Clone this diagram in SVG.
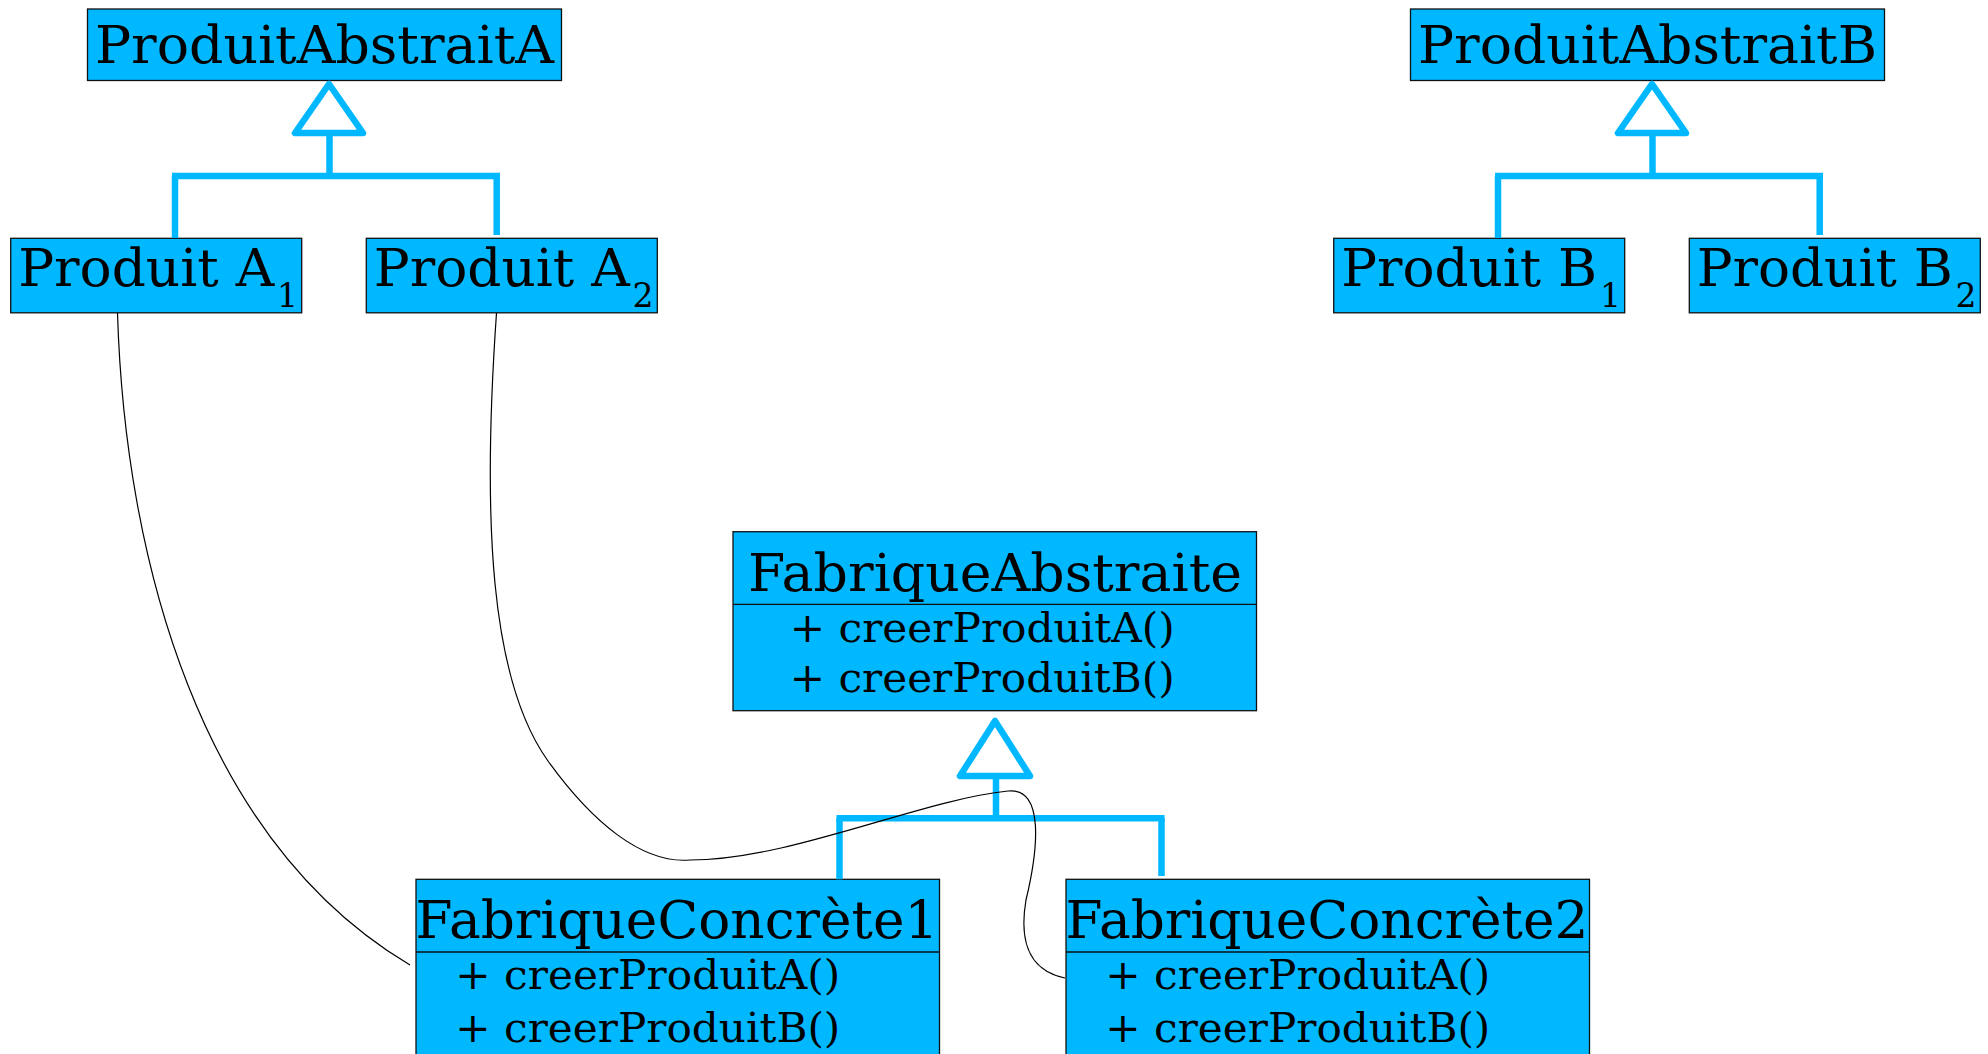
<svg xmlns="http://www.w3.org/2000/svg" width="1988" height="1054" viewBox="0 0 1988 1054">
<style>
.box{fill:#00b8ff;stroke:#111;stroke-width:1.3}
.div{stroke:#111;stroke-width:1.3}
.t{font-family:"DejaVu Serif","Liberation Serif",serif;fill:#000}
.title{font-size:53px}
.prod{font-size:53px}
.sub{font-size:33px}
.meth{font-size:41px}
.gen{stroke:#00b8ff;stroke-width:6.5;fill:none}
.tri{stroke:#00b8ff;stroke-width:6.5;fill:#fff;stroke-linejoin:round}
.assoc{stroke:#000;stroke-width:1.2;fill:none}
</style>
<rect width="1988" height="1054" fill="#fff"/>
<g id="produitAbstraitA">
<rect class="box" x="87.5" y="9" width="474" height="71.5"/>
<text class="t title" x="95" y="63.3" textLength="459" lengthAdjust="spacingAndGlyphs">ProduitAbstraitA</text>
</g>
<g id="produitA1">
<rect class="box" x="10.7" y="238.3" width="291" height="74.5"/>
<text class="t prod" x="18.2" y="286" textLength="256" lengthAdjust="spacingAndGlyphs">Produit A</text>
<text class="t sub" x="277" y="307.3">1</text>
</g>
<g id="produitA2">
<rect class="box" x="366.3" y="238.3" width="291" height="74.5"/>
<text class="t prod" x="373.8" y="286" textLength="256" lengthAdjust="spacingAndGlyphs">Produit A</text>
<text class="t sub" x="632.6" y="307.3">2</text>
</g>
<g id="produitAbstraitB">
<rect class="box" x="1410.5" y="9" width="474" height="71.5"/>
<text class="t title" x="1418" y="63.3" textLength="459" lengthAdjust="spacingAndGlyphs">ProduitAbstraitB</text>
</g>
<g id="produitB1">
<rect class="box" x="1333.7" y="238.3" width="291" height="74.5"/>
<text class="t prod" x="1341.2" y="286" textLength="256" lengthAdjust="spacingAndGlyphs">Produit B</text>
<text class="t sub" x="1600" y="307.3">1</text>
</g>
<g id="produitB2">
<rect class="box" x="1689.3" y="238.3" width="291" height="74.5"/>
<text class="t prod" x="1696.8" y="286" textLength="256" lengthAdjust="spacingAndGlyphs">Produit B</text>
<text class="t sub" x="1955.6" y="307.3">2</text>
</g>
<g id="fabriqueAbstraite">
<rect class="box" x="733" y="531.7" width="523.5" height="179"/>
<line class="div" x1="733" y1="604.3" x2="1256.5" y2="604.3"/>
<text class="t title" x="748" y="590.7" textLength="494" lengthAdjust="spacingAndGlyphs">FabriqueAbstraite</text>
<text class="t meth" x="789.7" y="641.7" textLength="385" lengthAdjust="spacingAndGlyphs">+ creerProduitA()</text>
<text class="t meth" x="789.7" y="691.7" textLength="385" lengthAdjust="spacingAndGlyphs">+ creerProduitB()</text>
</g>
<g id="fabriqueConcrete1">
<rect class="box" x="416" y="879.3" width="523.5" height="179"/>
<line class="div" x1="416" y1="952" x2="939.5" y2="952"/>
<text class="t title" x="415.5" y="938.3" textLength="523" lengthAdjust="spacingAndGlyphs">FabriqueConcrète1</text>
<text class="t meth" x="455.3" y="989.3" textLength="385" lengthAdjust="spacingAndGlyphs">+ creerProduitA()</text>
<text class="t meth" x="455.3" y="1041.7" textLength="385" lengthAdjust="spacingAndGlyphs">+ creerProduitB()</text>
</g>
<g id="fabriqueConcrete2">
<rect class="box" x="1066" y="879.3" width="523.5" height="179"/>
<line class="div" x1="1066" y1="952" x2="1589.5" y2="952"/>
<text class="t title" x="1065.5" y="938.3" textLength="523" lengthAdjust="spacingAndGlyphs">FabriqueConcrète2</text>
<text class="t meth" x="1105.3" y="989.3" textLength="385" lengthAdjust="spacingAndGlyphs">+ creerProduitA()</text>
<text class="t meth" x="1105.3" y="1041.7" textLength="385" lengthAdjust="spacingAndGlyphs">+ creerProduitB()</text>
</g>
<g id="connectors">
<polygon class="tri" points="329,84 295,133 363,133"/>
<line class="gen" x1="329.5" y1="133" x2="329.5" y2="176"/>
<line class="gen" x1="172" y1="176" x2="500" y2="176"/>
<line class="gen" x1="175" y1="176" x2="175" y2="238"/>
<line class="gen" x1="496.7" y1="176" x2="496.7" y2="235"/>
<polygon class="tri" points="1652,84 1618,133 1686,133"/>
<line class="gen" x1="1652.5" y1="133" x2="1652.5" y2="176"/>
<line class="gen" x1="1495" y1="176" x2="1823" y2="176"/>
<line class="gen" x1="1498" y1="176" x2="1498" y2="238"/>
<line class="gen" x1="1819.7" y1="176" x2="1819.7" y2="235"/>
<polygon class="tri" points="995,721 960,776 1030,776"/>
<line class="gen" x1="996" y1="776" x2="996" y2="818.3"/>
<line class="gen" x1="836.5" y1="818.3" x2="1164.5" y2="818.3"/>
<line class="gen" x1="839.5" y1="818.3" x2="839.5" y2="879.3"/>
<line class="gen" x1="1161.5" y1="818.3" x2="1161.5" y2="876"/>
<path class="assoc" d="M117.5,313 C125,560 200,840 410,965"/>
<path class="assoc" d="M496.5,313 C482,520 490,680 548,761 C592,822 642,864 690,860 C790,860 920,800 1008,791 C1045,787 1038,850 1026,900 C1020,935 1025,970 1065,978"/>
</g>
</svg>
